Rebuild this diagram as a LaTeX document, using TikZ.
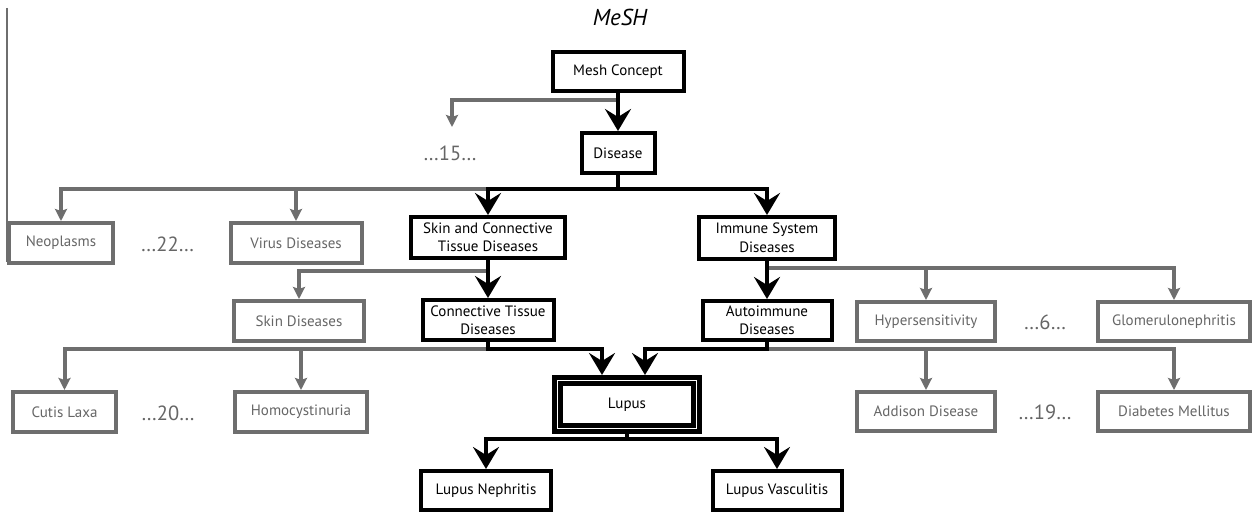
\documentclass[tikz,border=0pt]{standalone}
\usepackage{fontspec}
\setmainfont{PT Sans}
\usetikzlibrary{arrows.meta}
\definecolor{gr}{HTML}{6E6E6E}
\definecolor{grt}{HTML}{666666}
\begin{document}
\begin{tikzpicture}[x=1pt,y=-1pt,
  sz/.style 2 args={minimum width=#1pt,minimum height=#2pt},
  bbox/.style={draw=black,line width=4pt,fill=white,text=black,align=center,inner sep=0pt,font=\fontsize{15}{18.5}\selectfont},
  gbox/.style={draw=gr,line width=4pt,fill=white,text=grt,align=center,inner sep=0pt,font=\fontsize{15}{18.5}\selectfont},
  dots/.style={text=grt,font=\fontsize{20.5}{22}\selectfont,inner sep=0pt},
  barr/.style={draw=black,line width=4pt,-{Stealth[length=22pt,width=26pt,inset=8pt]}},
  garr/.style={draw=gr,line width=4pt,-{Stealth[length=12pt,width=12pt,inset=2pt]}},
]
\useasboundingbox (0,0) rectangle (1254,513);

% title and side rule
\node[font=\itshape\fontsize{23}{25}\selectfont] (title) at (620,17) {MeSH};
\draw[draw=gr,line width=1.5pt] (7,8) -- (7,262);

% nodes
\node[bbox,sz={131}{39}] (mesh) at (618,71.5) {Mesh Concept};
\node[bbox,sz={73}{40}] (disease) at (618,153) {Disease};
\node[dots] (d15) at (450,153) {…15…};
\coordinate (t15) at (452,127);

\node[gbox,sz={104}{40}] (neo) at (61,243) {Neoplasms};
\node[dots] (d22) at (167.5,244) {…22…};
\node[gbox,sz={131}{40}] (virus) at (296,243) {Virus Diseases};
\node[bbox,sz={154}{41}] (sct) at (488,237.5) {Skin and Connective\\Tissue Diseases};
\node[bbox,sz={136}{42}] (immune) at (767,238) {Immune System\\Diseases};

\node[gbox,sz={130}{40}] (skindis) at (299,321) {Skin Diseases};
\node[bbox,sz={131}{40}] (ctd) at (488,320) {Connective Tissue\\Diseases};
\node[bbox,sz={129}{39}] (auto) at (767,320.5) {Autoimmune\\Diseases};
\node[gbox,sz={138}{39}] (hyper) at (926,321.5) {Hypersensitivity};
\node[dots] (d6) at (1045,322) {…6…};
\node[gbox,sz={152}{39}] (glom) at (1174,321.5) {Glomerulonephritis};

\node[gbox,sz={103}{40}] (cutis) at (64.5,412) {Cutis Laxa};
\node[dots] (d20) at (168,413) {…20…};
\node[gbox,sz={132}{40}] (homo) at (301,412) {Homocystinuria};
\node[draw=black,line width=4.6pt,double=white,double distance=1.2pt,fill=white,
      inner sep=0pt,outer sep=5.5pt,sz={139}{48},font=\fontsize{15}{18.5}\selectfont] (lupus) at (627,404.5) {Lupus};
\node[gbox,sz={138}{39}] (addison) at (926,411.5) {Addison Disease};
\node[dots] (d19) at (1045,412.5) {…19…};
\node[gbox,sz={152}{39}] (diabetes) at (1174,411.5) {Diabetes Mellitus};

\node[bbox,sz={130}{39}] (neph) at (486,490.5) {Lupus Nephritis};
\node[bbox,sz={129}{39}] (vasc) at (777,490.5) {Lupus Vasculitis};

% grey connectors (underneath)
\draw[garr] (mesh.south) ++(0,7) -| (t15);
\draw[garr] (disease.south) ++(0,14) -| (neo.north);
\draw[garr] (disease.south) ++(0,14) -| (virus.north);
\draw[garr] (sct.south) ++(0,11) -| (skindis.north);
\draw[garr] (immune.south) ++(0,7) -| (hyper.north);
\draw[garr] (immune.south) ++(0,7) -| (glom.north);
\draw[garr] (ctd.south) ++(0,7) -| (cutis.north);
\draw[garr] (ctd.south) ++(0,7) -| (homo.north);
\draw[garr] (auto.south) ++(0,7) -| (addison.north);
\draw[garr] (auto.south) ++(0,7) -| (diabetes.north);

% black connectors
\draw[barr] (mesh.south) -- (disease.north);
\draw[barr] (disease.south) -- ++(0,14) -| (sct.north);
\draw[barr] (disease.south) -- ++(0,14) -| (immune.north);
\draw[barr] (sct.south) -- (ctd.north);
\draw[barr] (immune.south) -- (auto.north);
\draw[barr] (ctd.south) -- ++(0,7) -| ([xshift=-25pt]lupus.north);
\draw[barr] (auto.south) -- ++(0,7) -| ([xshift=18pt]lupus.north);
\draw[barr] (lupus.south) -- ++(0,5) -| (neph.north);
\draw[barr] (lupus.south) -- ++(0,5) -| (vasc.north);
\end{tikzpicture}
\end{document}
